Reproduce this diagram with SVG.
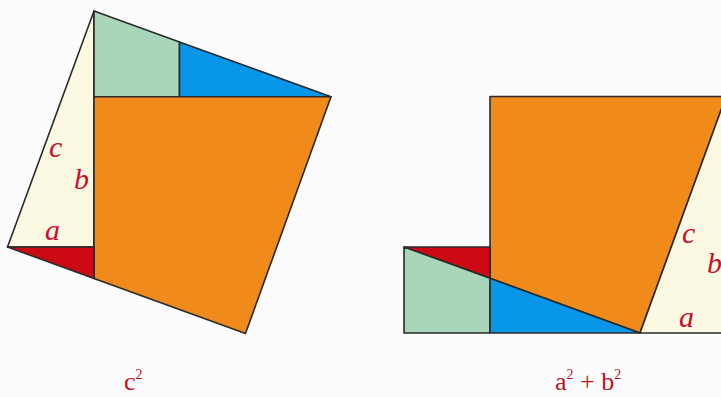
<svg xmlns="http://www.w3.org/2000/svg" width="721" height="397" viewBox="0 0 721 397">
<style>
.p{stroke:#2a2a2a;stroke-width:1.6;stroke-linejoin:round}
.or{fill:#ef8a1b}.gr{fill:#a9d5bb}.bl{fill:#0896e8}.rd{fill:#cc0a14}.cr{fill:#fcf9e2}
.lb{font-family:"Liberation Serif",serif;font-style:italic;font-size:30px;fill:#c8102e}
.cap{font-family:"Liberation Serif",serif;font-size:26px;fill:#c0101e}
.sup{font-size:14px}
</style>
<rect width="721" height="397" fill="#fcfcfe"/>
<g id="left-figure">
  <polygon class="p cr" points="7.5,247 94,11 94,247"/>
  <polygon class="p gr" points="94,11 179.5,41.9 179.5,96.7 94,96.7"/>
  <polygon class="p bl" points="179.5,41.9 331,96.7 179.5,96.7"/>
  <polygon class="p or" points="94,96.7 331,96.7 245.5,333.5 94,278.4"/>
  <polygon class="p rd" points="7.5,247 94,247 94,278.4"/>
  <text class="lb" x="49" y="157">c</text>
  <text class="lb" x="74" y="189">b</text>
  <text class="lb" x="45" y="240">a</text>
</g>
<g id="right-figure">
  <polygon class="p or" points="490,96.5 726,96.5 640,333 490,278.3"/>
  <polygon class="p cr" points="640,333 726,333 726,96.5"/>
  <polygon class="p rd" points="404,247 490,247 490,278.3"/>
  <polygon class="p gr" points="404,247 490,278.3 490,333 404,333"/>
  <polygon class="p bl" points="490,278.3 640,333 490,333"/>
  <text class="lb" x="682" y="243">c</text>
  <text class="lb" x="707" y="273">b</text>
  <text class="lb" x="679" y="327">a</text>
</g>
<g id="captions">
  <text class="cap" x="124" y="390">c<tspan class="sup" dy="-11">2</tspan></text>
  <text class="cap" x="555" y="390">a<tspan class="sup" dy="-11">2</tspan><tspan dy="11"> + b</tspan><tspan class="sup" dy="-11">2</tspan></text>
</g>
</svg>
